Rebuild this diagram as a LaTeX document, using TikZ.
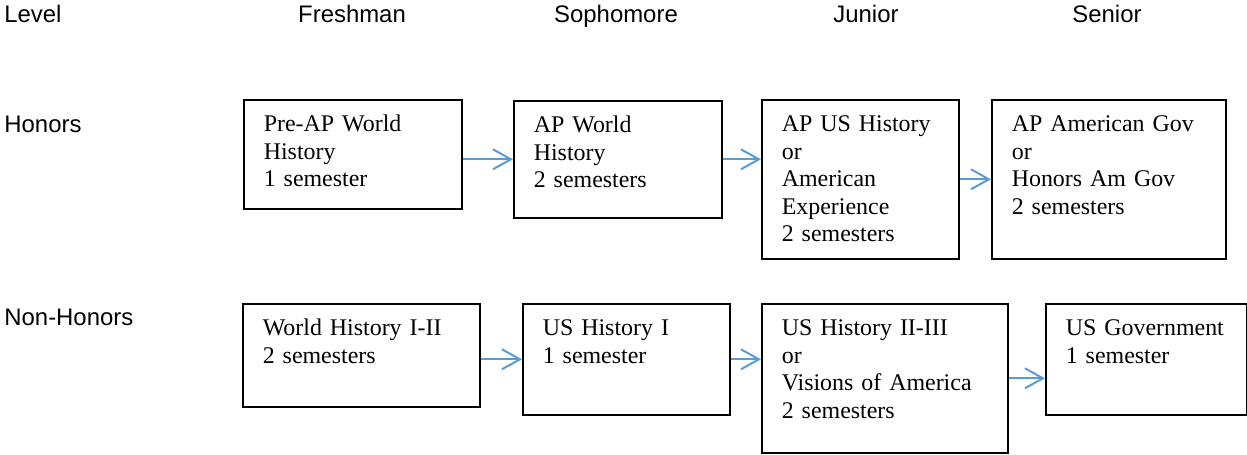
\documentclass[tikz,border=0pt]{standalone}
\usepackage{fontspec}
\setmainfont{Liberation Serif}
\setsansfont{Liberation Sans}
\usepackage{tikz}
\usetikzlibrary{arrows.meta}
\usepackage{xcolor}
\definecolor{arrowblue}{RGB}{91,155,213}
\tikzset{>={Straight Barb[length=9bp,width=10bp]}}
\tikzset{
  course/.style 2 args={
    draw, line width=0.8bp, anchor=north west,
    inner xsep=10bp, inner ysep=0pt,
    align=left, font=\fontsize{12}{13.8}\selectfont,
    text height=16bp, text width=#1, text depth=#2
  },
  heading/.style={font=\sffamily\fontsize{12}{14}\selectfont, inner sep=0pt},
  link/.style={->, line width=1bp, arrowblue}
}

\begin{document}
\begin{tikzpicture}[x=0.5bp,y=-0.5bp]
    \useasboundingbox (0,0) rectangle (1247,455);
    % column and row headings
    \node[heading,anchor=base west](lvl) at (4,23) {Level};
    \node[heading,anchor=base](fr) at (352,23) {Freshman};
    \node[heading,anchor=base](so) at (616,23) {Sophomore};
    \node[heading,anchor=base](ju) at (866,23) {Junior};
    \node[heading,anchor=base](se) at (1107,23) {Senior};
    \node[heading,anchor=base west](hon) at (4,133) {Honors};
    \node[heading,anchor=base west](non) at (4,326) {Non-Honors};
    % honors track
    \node[course={89bp}{38.5bp}](hA) at (243,99) {Pre-AP World\\History\\1 semester};
    \node[course={84bp}{42.5bp}](hB) at (513,100) {AP World\\History\\2 semesters};
    \node[course={78.5bp}{63.5bp}](hC) at (761,99) {AP US History\\or\\American\\Experience\\2 semesters};
    \node[course={97bp}{63.5bp}](hD) at (991,99) {AP American Gov\\or\\Honors Am Gov\\2 semesters};
    % non-honors track
    \node[course={98.5bp}{35.5bp}](nA) at (242,303) {World History I-II\\2 semesters};
    \node[course={83.5bp}{39.5bp}](nB) at (522,303) {US History I\\1 semester};
    \node[course={103bp}{58.5bp}](nC) at (761,303) {US History II-III\\or\\Visions of America\\2 semesters};
    \node[course={80.5bp}{39.5bp}](nD) at (1045,303) {US Government\\1 semester};
    % arrows
    \draw[link] (hA.east |- hB.west) -- (hB.west);
    \draw[link] (hB.east) -- (hB.east -| hC.west);
    \draw[link] (hC.east) -- (hD.west);
    \draw[link] (nA.east |- nB.west) -- (nB.west);
    \draw[link] (nB.east) -- (nB.east -| nC.west);
    \draw[link] (nC.east) -- (nC.east -| nD.west);
\end{tikzpicture}
\end{document}
